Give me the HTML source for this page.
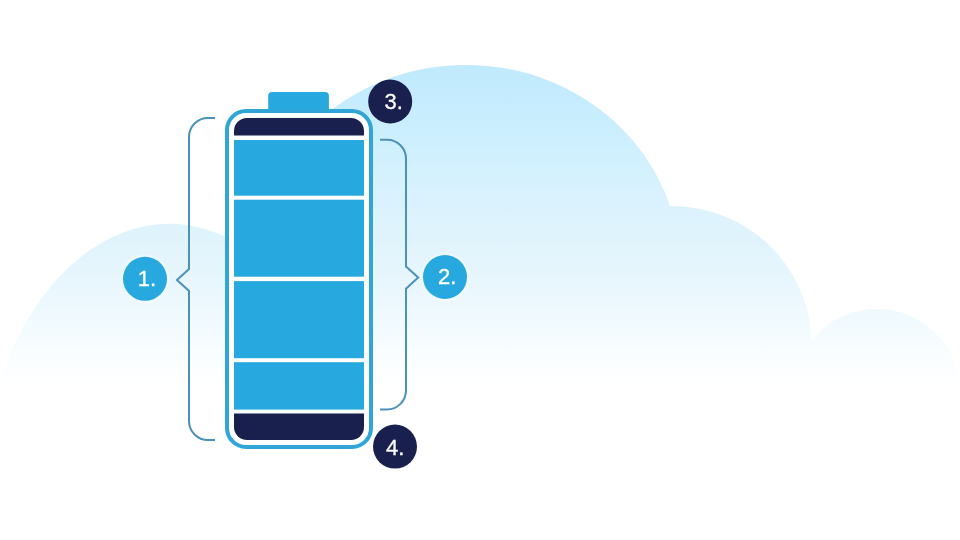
<!DOCTYPE html>
<html>
<head>
<meta charset="utf-8">
<style>
html,body{margin:0;padding:0;background:#ffffff;}
body{width:960px;height:540px;overflow:hidden;position:relative;}
svg{position:absolute;left:0;top:0;display:block;}
text{font-family:"Liberation Sans", sans-serif;}
</style>
</head>
<body>
<svg width="960" height="540" viewBox="0 0 960 540">
  <defs>
    <linearGradient id="cloudGrad" x1="0" y1="64" x2="0" y2="385" gradientUnits="userSpaceOnUse">
      <stop offset="0" stop-color="#c0e9fc"/>
      <stop offset="0.093" stop-color="#c4ecfe"/>
      <stop offset="0.268" stop-color="#cff0fe"/>
      <stop offset="0.424" stop-color="#daf2fe"/>
      <stop offset="0.579" stop-color="#e2f4fc"/>
      <stop offset="0.735" stop-color="#ecf8fe"/>
      <stop offset="0.891" stop-color="#f8fdff"/>
      <stop offset="1" stop-color="#ffffff"/>
    </linearGradient>
  </defs>
  <rect x="0" y="0" width="960" height="540" fill="#ffffff"/>
  <!-- cloud -->
  <g fill="url(#cloudGrad)">
    <ellipse cx="169.2" cy="514.3" rx="190.8" ry="290.5"/>
    <ellipse cx="466" cy="269.4" rx="214.7" ry="204.5"/>
    <circle cx="672" cy="346" r="140"/>
    <ellipse cx="877" cy="386" rx="81" ry="77"/>
  </g>
  <rect x="0" y="385" width="960" height="155" fill="#ffffff"/>

  <!-- brackets -->
  <g fill="none" stroke="#4a92b9" stroke-width="2" stroke-linejoin="miter">
    <path d="M215 118 H208 A19 19 0 0 0 189 137 V269 L177 280 L189 291 V421 A19 19 0 0 0 208 440 H215"/>
    <path d="M380 139.7 H387 A19 19 0 0 1 406 158.7 V266.5 L418.2 277.5 L406 288.7 V390.4 A19 19 0 0 1 387 409.4 H380"/>
  </g>

  <!-- battery -->
  <rect x="268.2" y="92.1" width="60.7" height="24" rx="4" fill="#27a8df"/>
  <rect x="227" y="111" width="144" height="336" rx="19" fill="#ffffff" stroke="#30a6d8" stroke-width="4"/>
  <path d="M234 135.4 V131 A13 13 0 0 1 247 118 H351 A13 13 0 0 1 364 131 V135.4 Z" fill="#1a204e"/>
  <rect x="234" y="140" width="130" height="55.7" fill="#27a8df"/>
  <rect x="234" y="199.7" width="130" height="77" fill="#27a8df"/>
  <rect x="234" y="281.1" width="130" height="77.1" fill="#27a8df"/>
  <rect x="234" y="362.2" width="130" height="47.4" fill="#27a8df"/>
  <path d="M234 413.4 V427 A13 13 0 0 0 247 440 H351 A13 13 0 0 0 364 427 V413.4 Z" fill="#1a204e"/>

  <!-- circles -->
  <circle cx="145" cy="278.8" r="24.5" fill="#ffffff" fill-opacity="0.3"/>
  <circle cx="145" cy="278.8" r="22" fill="#27a8df"/>
  <circle cx="445" cy="277" r="24.5" fill="#ffffff" fill-opacity="0.3"/>
  <circle cx="445" cy="277" r="22" fill="#27a8df"/>
  <circle cx="390.2" cy="101.5" r="22" fill="#1a204e"/>
  <circle cx="395" cy="446.6" r="22" fill="#1a204e"/>
  <g style="will-change:transform" fill="#ffffff" stroke="#ffffff" stroke-width="0.3" font-size="22" text-anchor="middle">
    <text x="147" y="285.5">1.</text>
    <text x="447.2" y="283.5">2.</text>
    <text x="393.8" y="108.6">3.</text>
    <text x="395.3" y="454.6">4.</text>
  </g>
</svg>
</body>
</html>
